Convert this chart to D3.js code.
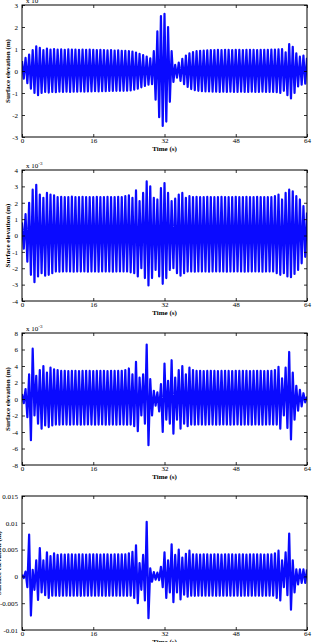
<!DOCTYPE html>
<html><head><meta charset="utf-8">
<script src="https://cdn.jsdelivr.net/npm/d3@7"></script>
<style>
html,body{margin:0;padding:0;background:#fff;}
svg{display:block;}
text{font-family:"Liberation Serif","Times New Roman",serif;fill:#000;}
</style></head><body>
<svg id="chart" width="312" height="642"></svg>
<script>
// Time axis ticks (s)
const xTicks = [0, 16, 32, 48, 64];
// Wave crests sampled every 0.8 s starting at 0 s, troughs every 0.8 s starting at 0.4 s
const crestStart = 0, troughStart = 0.4, peakStep = 0.8;

// Panel 1 (x 10^-3 m)
const p1Crests = [0.45,0.6,0.75,0.95,1.12,1.05,0.95,1.02,0.97,1.0,0.97,0.98,0.96,0.98,0.97,0.97,0.96,0.97,0.96,0.97,0.96,0.95,0.96,0.95,0.94,0.95,0.93,0.94,0.92,0.92,0.9,0.88,0.84,0.78,0.72,0.66,0.58,0.9,1.8,2.5,2.6,2.0,0.9,0.28,0.38,0.55,0.7,0.8,0.86,0.9,0.92,0.93,0.94,0.95,0.95,0.96,0.95,0.96,0.96,0.95,0.96,0.96,0.95,0.96,0.96,0.96,0.95,0.96,0.96,0.96,0.97,0.97,0.98,1.0,0.85,1.22,1.1,0.8,0.65,0.7,0.6];
const p1Troughs = [-0.35,-0.55,-0.8,-1.0,-1.1,-1.0,-0.95,-0.98,-0.95,-0.96,-0.94,-0.95,-0.94,-0.95,-0.94,-0.94,-0.93,-0.94,-0.93,-0.93,-0.92,-0.93,-0.92,-0.92,-0.91,-0.91,-0.9,-0.9,-0.9,-0.89,-0.88,-0.85,-0.8,-0.74,-0.68,-0.62,-0.6,-1.3,-2.1,-2.5,-2.3,-1.4,-0.5,-0.3,-0.45,-0.6,-0.72,-0.82,-0.87,-0.9,-0.92,-0.93,-0.93,-0.94,-0.94,-0.95,-0.94,-0.95,-0.94,-0.95,-0.95,-0.94,-0.95,-0.95,-0.94,-0.95,-0.95,-0.94,-0.95,-0.95,-0.95,-0.96,-1.0,-0.9,-1.1,-1.25,-1.0,-0.7,-0.62,-0.58];

// Panel 2 (x 10^-3 m)
const p2Crests = [0.8,1.3,2.0,2.8,3.1,2.5,2.3,2.6,2.5,2.45,2.35,2.36,2.34,2.35,2.37,2.35,2.34,2.36,2.35,2.35,2.34,2.36,2.35,2.35,2.36,2.34,2.35,2.36,2.35,2.4,2.45,2.3,2.75,2.1,2.6,3.3,3.0,2.3,2.2,2.9,3.2,2.6,2.1,2.25,2.5,2.6,2.3,2.4,2.35,2.36,2.34,2.35,2.36,2.35,2.34,2.35,2.36,2.35,2.35,2.34,2.36,2.35,2.35,2.36,2.34,2.35,2.36,2.35,2.35,2.34,2.35,2.4,2.5,2.2,2.6,2.8,2.7,2.4,2.2,1.8,1.4];
const p2Troughs = [-0.8,-1.6,-2.4,-2.85,-2.5,-2.3,-2.45,-2.4,-2.3,-2.2,-2.21,-2.2,-2.19,-2.2,-2.21,-2.2,-2.2,-2.19,-2.21,-2.2,-2.2,-2.21,-2.19,-2.2,-2.2,-2.21,-2.2,-2.19,-2.2,-2.2,-2.25,-2.3,-2.5,-2.0,-2.6,-3.05,-2.6,-2.1,-2.5,-2.95,-2.6,-2.1,-2.0,-2.3,-2.45,-2.3,-2.2,-2.2,-2.21,-2.19,-2.2,-2.2,-2.21,-2.2,-2.19,-2.2,-2.2,-2.21,-2.2,-2.2,-2.19,-2.2,-2.21,-2.2,-2.2,-2.19,-2.2,-2.21,-2.2,-2.2,-2.2,-2.3,-2.4,-2.3,-2.5,-2.55,-2.35,-2.1,-1.7,-1.3];

// Panel 3 (x 10^-3 m)
const p3Crests = [0.6,1.2,3.0,6.1,2.8,3.5,4.0,3.2,3.8,3.6,3.5,3.4,3.42,3.38,3.4,3.41,3.39,3.4,3.42,3.4,3.38,3.4,3.41,3.4,3.39,3.42,3.4,3.4,3.41,3.5,3.7,3.0,4.5,2.6,3.0,6.6,2.4,1.0,0.8,1.8,4.3,2.2,4.7,2.6,3.5,4.0,3.0,3.8,3.5,3.4,3.41,3.39,3.4,3.42,3.4,3.38,3.4,3.41,3.4,3.39,3.42,3.4,3.4,3.41,3.39,3.4,3.42,3.4,3.38,3.4,3.41,3.5,3.9,2.5,3.8,5.7,3.2,1.6,1.1,0.7,0.3];
const p3Troughs = [-0.5,-2.2,-5.0,-2.0,-3.0,-3.6,-3.2,-3.4,-3.2,-3.1,-3.12,-3.08,-3.1,-3.11,-3.09,-3.1,-3.12,-3.1,-3.08,-3.1,-3.11,-3.1,-3.09,-3.12,-3.1,-3.1,-3.11,-3.09,-3.1,-3.12,-3.1,-3.3,-3.9,-2.0,-3.0,-5.6,-2.0,-0.8,-1.5,-4.0,-2.5,-3.0,-4.2,-2.5,-3.6,-3.0,-3.3,-3.1,-3.12,-3.08,-3.1,-3.11,-3.09,-3.1,-3.12,-3.1,-3.08,-3.1,-3.11,-3.1,-3.09,-3.12,-3.1,-3.1,-3.11,-3.09,-3.1,-3.12,-3.1,-3.08,-3.1,-3.1,-3.6,-2.0,-3.5,-4.9,-2.5,-1.4,-0.9,-0.4];

// Panel 4 (x 10^-3 m, axis shown in m)
const p4Crests = [0.3,0.9,7.8,1.2,3.0,5.3,3.0,4.5,3.8,4.3,4.0,4.1,4.08,4.12,4.1,4.09,4.11,4.1,4.08,4.1,4.12,4.1,4.09,4.1,4.11,4.08,4.1,4.12,4.1,4.1,4.3,4.6,5.8,2.5,4.0,10.2,1.5,0.8,0.7,1.8,4.5,3.0,6.0,4.0,5.0,3.5,4.2,4.8,4.1,4.1,4.08,4.12,4.1,4.09,4.11,4.1,4.08,4.1,4.12,4.1,4.09,4.1,4.11,4.08,4.1,4.12,4.1,4.1,4.09,4.11,4.1,4.3,4.8,3.0,4.5,8.0,3.0,1.3,1.3,1.3,1.3];
const p4Troughs = [-0.3,-2.0,-7.3,-2.5,-4.4,-3.0,-3.5,-4.0,-3.6,-3.6,-3.62,-3.58,-3.6,-3.61,-3.59,-3.6,-3.62,-3.6,-3.58,-3.6,-3.61,-3.6,-3.59,-3.62,-3.6,-3.6,-3.61,-3.59,-3.6,-3.62,-3.6,-4.0,-5.0,-2.5,-4.5,-7.8,-1.0,-0.6,-0.7,-2.0,-4.0,-3.0,-4.8,-3.0,-4.3,-3.4,-3.8,-3.6,-3.62,-3.58,-3.6,-3.61,-3.59,-3.6,-3.62,-3.6,-3.58,-3.6,-3.61,-3.6,-3.59,-3.62,-3.6,-3.6,-3.61,-3.59,-3.6,-3.62,-3.6,-3.58,-3.6,-4.0,-4.5,-2.0,-3.5,-6.2,-3.0,-1.5,-1.2,-1.2];

// y tick values and labels
const p1YTicks = [-3,-2,-1,0,1,2,3];
const p2YTicks = [-4,-3,-2,-1,0,1,2,3,4];
const p3YTicks = [-8,-6,-4,-2,0,2,4,6,8];
const p4YTicks = [-0.01,-0.005,0,0.005,0.01,0.015];
const p4YLabels = ["-0.01","-0.005","0","0.005","0.01","0.015"];

const svg = d3.select("#chart");
const left = 22, right = 307;

function merge(crests, troughs, unit){
  const pts = [];
  crests.forEach((c,i)=>{
    pts.push([crestStart + i*peakStep, c*unit]);
    if (i < troughs.length) pts.push([troughStart + i*peakStep, troughs[i]*unit]);
  });
  return pts;
}

function panel(cfg){
  const g = svg.append("g");
  const x = d3.scaleLinear().domain([0,64]).range([left,right]);
  const y = d3.scaleLinear().domain(cfg.domain).range([cfg.bottom, cfg.top]);
  const clipId = "clip"+cfg.id;
  g.append("clipPath").attr("id",clipId).append("rect")
    .attr("x",left).attr("y",cfg.top).attr("width",right-left).attr("height",cfg.bottom-cfg.top);
  const pts = merge(cfg.crests, cfg.troughs, cfg.unit);
  g.append("path").attr("clip-path","url(#"+clipId+")")
    .attr("d", d3.line().x(d=>x(d[0])).y(d=>y(d[1]))(pts))
    .attr("fill","none").attr("stroke","#0a0aff").attr("stroke-width",2.2)
    .attr("stroke-linejoin","round");

  const fmt = cfg.labels ? (d,i)=>cfg.labels[i] : d=>String(d);
  // axes with inward ticks
  const axB = g.append("g").attr("transform",`translate(0,${cfg.bottom})`)
    .call(d3.axisBottom(x).tickValues(xTicks).tickSize(-3).tickPadding(1).tickFormat(d=>String(d)));
  const axT = g.append("g").attr("transform",`translate(0,${cfg.top})`)
    .call(d3.axisTop(x).tickValues(xTicks).tickSize(-3).tickFormat(""));
  const axL = g.append("g").attr("transform",`translate(${left},0)`)
    .call(d3.axisLeft(y).tickValues(cfg.yTicks).tickSize(-3).tickPadding(4).tickFormat(fmt));
  const axR = g.append("g").attr("transform",`translate(${right},0)`)
    .call(d3.axisRight(y).tickValues(cfg.yTicks).tickSize(-3).tickFormat(""));
  [axB,axT,axL,axR].forEach(a=>{
    a.select(".domain").remove();
    a.selectAll(".tick line").attr("stroke","#000").attr("stroke-width",0.8);
    a.selectAll("text").attr("font-family","Liberation Serif, serif").attr("font-size",7).attr("fill","#000");
  });
  g.append("rect").attr("x",left).attr("y",cfg.top).attr("width",right-left).attr("height",cfg.bottom-cfg.top)
    .attr("fill","none").attr("stroke","#000").attr("stroke-width",1);

  g.append("text").attr("x",(left+right)/2).attr("y",cfg.bottom+13.5)
    .attr("text-anchor","middle").attr("font-size",7).attr("font-weight","bold").text("Time (s)");
  g.append("text").attr("transform",`translate(${cfg.ylabX},${(cfg.top+cfg.bottom)/2}) rotate(-90)`)
    .attr("text-anchor","middle").attr("font-size",7).attr("font-weight","bold").text("Surface elevation (m)");
  if (cfg.exp){
    const t = g.append("text").attr("x",left+4).attr("y",cfg.top-2).attr("font-size",7);
    t.append("tspan").text("x 10");
    t.append("tspan").attr("dy",-3).attr("font-size",5).text("-3");
  }
}

panel({id:1, top:5, bottom:137, domain:[-3,3], yTicks:p1YTicks, crests:p1Crests, troughs:p1Troughs, unit:1, exp:true, ylabX:10});
panel({id:2, top:170, bottom:301, domain:[-4,4], yTicks:p2YTicks, crests:p2Crests, troughs:p2Troughs, unit:1, exp:true, ylabX:10});
panel({id:3, top:333, bottom:465, domain:[-8,8], yTicks:p3YTicks, crests:p3Crests, troughs:p3Troughs, unit:1, exp:true, ylabX:10});
panel({id:4, top:496, bottom:630, domain:[-0.01,0.015], yTicks:p4YTicks, labels:p4YLabels, crests:p4Crests, troughs:p4Troughs, unit:0.001, exp:false, ylabX:1});
</script>
</body></html>
